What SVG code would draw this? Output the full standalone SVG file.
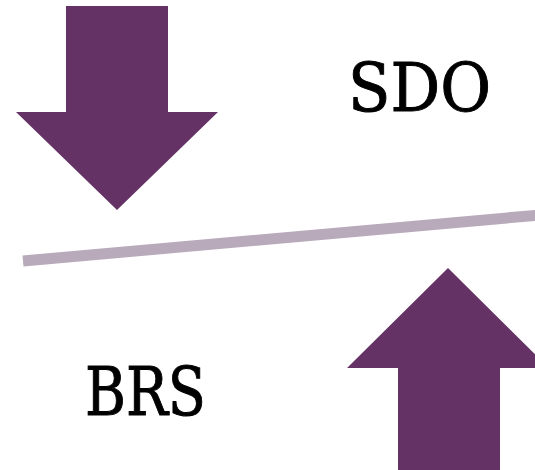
<svg xmlns="http://www.w3.org/2000/svg" width="535" height="470" viewBox="0 0 535 470">
<style>
.arrow{fill:#643264;}
.lbl{font-family:"DejaVu Serif","Liberation Serif",serif;font-size:68px;fill:#000;stroke:#000;stroke-width:1;}
.bar{stroke:#b8a9bb;stroke-width:11;stroke-linecap:butt;fill:none;}
</style>
<rect width="535" height="470" fill="#fff"/>
<g id="connectors">
<line class="bar" x1="23" y1="261" x2="540" y2="215"/>
</g>
<g id="arrow-down">
<polygon class="arrow" points="66,6 168,6 168,112 218,112 117,210 16,112 66,112"/>
</g>
<g id="arrow-up">
<polygon class="arrow" points="448,268 549,368 500,368 500,475 398,475 398,368 347,368"/>
</g>
<g id="sdo">
<text class="lbl" x="348" y="111" textLength="143" lengthAdjust="spacingAndGlyphs">SDO</text>
</g>
<g id="brs">
<text class="lbl" x="85" y="415" textLength="121" lengthAdjust="spacingAndGlyphs">BRS</text>
</g>
</svg>
